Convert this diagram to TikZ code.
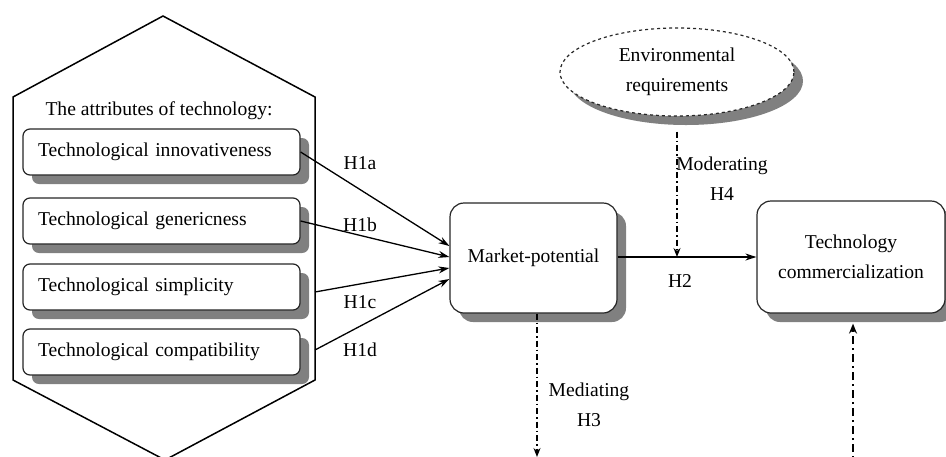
\documentclass[tikz,border=0pt]{standalone}
\usepackage{fontspec}
\setmainfont{Liberation Serif}
\usetikzlibrary{shadows,arrows.meta,shapes.geometric,calc}
\begin{document}
\begin{tikzpicture}[x=1pt,y=-1pt,
  font=\fontsize{19.6}{30}\selectfont,
  shade/.style={drop shadow={shadow xshift=9pt,shadow yshift=-9pt,fill=black!50,opacity=1}},
  attrbox/.style={draw=black!85,line width=1.2pt,rounded corners=7pt,fill=white,shade,
    text width=247pt,align=left,inner xsep=15pt,minimum height=46pt},
  mainbox/.style={draw=black!85,line width=1.2pt,rounded corners=14pt,fill=white,shade,align=center},
  envbox/.style={ellipse,draw=black!85,dashed,line width=1.2pt,fill=white,shade,align=center,
    minimum width=234pt,minimum height=88pt,inner sep=0pt},
  hyp/.style={-{Stealth[length=11pt,width=7pt]},line width=1.3pt},
  dotdash/.style={-{Stealth[length=9pt,width=7pt]},line width=1.3pt,dash pattern=on 6pt off 3pt on 1.5pt off 3pt},
  lbl/.style={inner sep=0pt,align=center}]
\useasboundingbox (0,0) rectangle (946,456);

% house-shaped frame around the attribute boxes
\draw[line width=1.5pt,line join=miter]
  (163,16) -- (315,97) -- (315,380) -- (165,460) -- (13,380) -- (13,97) -- cycle;
\node[lbl] (title) at (159,111) {The attributes of technology:};

\node[attrbox] (a1) at (161.5,152) {Technological innovativeness};
\node[attrbox] (a2) at (161.5,221) {Technological genericness};
\node[attrbox] (a3) at (161.5,287) {Technological simplicity};
\node[attrbox] (a4) at (161.5,352) {Technological compatibility};

\node[mainbox,minimum width=167pt,minimum height=110pt] (mp) at (533.5,258) {Market-potential};
\node[mainbox,minimum width=188pt,minimum height=112pt] (tc) at (851,257) {Technology\\commercialization};
\node[envbox] (env) at (677,72) {Environmental\\requirements};

% start points on the frame edge
\coordinate (s3) at (315,292);
\coordinate (s4) at (315,350);

\draw[hyp] (a1.east) -- ([yshift=12pt]mp.west);
\draw[hyp] (a2.east) -- ([yshift=1pt]mp.west);
\draw[hyp] (s3) -- ([yshift=-10pt]mp.west);
\draw[hyp] (s4) -- ([yshift=-21pt]mp.west);

\node[lbl] (h1a) at (360,163) {H1a};
\node[lbl] (h1b) at (360,225) {H1b};
\node[lbl] (h1c) at (360,302) {H1c};
\node[lbl] (h1d) at (360,350) {H1d};

% main path H2
\draw[hyp] ([yshift=1pt]mp.east) -- ([yshift=0pt]tc.west);
\node[lbl] (h2) at (680,281) {H2};

% moderating effect
\coordinate (modend) at (677,257);
\draw[dotdash] ([yshift=-15pt]env.south) -- (modend);
\node[lbl] (h4) at (722,179) {Moderating\\H4};

% mediating effect
\coordinate (medend) at (537,457);
\draw[dotdash] ([xshift=3.5pt]mp.south) -- (medend);
\node[lbl] (h3) at (589,405) {Mediating\\H3};

% path back to commercialization
\coordinate (retstart) at (853,470);
\draw[-{Stealth[length=10pt,width=8pt]},line width=2pt,dash pattern=on 8pt off 4pt on 2pt off 4pt]
  (retstart) -- ([xshift=2pt,yshift=-10pt]tc.south);
\end{tikzpicture}
\end{document}
